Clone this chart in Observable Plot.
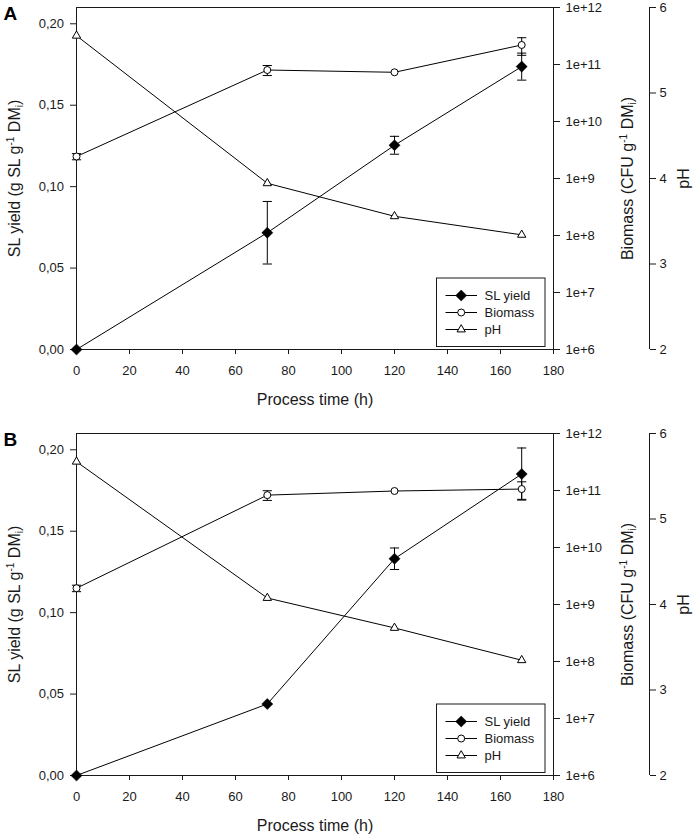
<!DOCTYPE html>
<html>
<head>
<meta charset="utf-8">
<script src="https://cdn.jsdelivr.net/npm/d3@7"></script>
<script src="https://cdn.jsdelivr.net/npm/@observablehq/plot@0.6"></script>
<style>
  body { margin: 0; background: #fff; }
  #chart { position: relative; width: 699px; height: 836px; background: #fff;
           font-family: "Liberation Sans", Arial, Helvetica, sans-serif; }
  .panel { position: absolute; left: 0; width: 699px; height: 420px; }
  .panel svg { position: absolute; left: 0; top: 0; }
</style>
</head>
<body>
<div id="chart"></div>
<script>
// ---------------- data ----------------
const hours = [0, 72, 120, 168];

// Panel A
const slYieldA    = [0, 0.0717, 0.1254, 0.1737];
const slErrA      = [0, 0.0192, 0.0055, 0.0083];
const biomassA    = [2.43e9, 8.0e10, 7.3e10, 2.2e11];
const biomassErrA = [3e8, 1.6e10, 0, 7.5e10];
const phA         = [5.67, 3.944, 3.558, 3.341];

// Panel B
const slYieldB    = [0, 0.0439, 0.1331, 0.1851];
const slErrB      = [0, 0, 0.0066, 0.016];
const biomassB    = [1.93e9, 8.3e10, 9.8e10, 1.06e11];
const biomassErrB = [2.5e8, 1.6e10, 0, 3.6e10];
const phB         = [5.67, 4.076, 3.726, 3.348];

// axes / labels
const xTicks = [0, 20, 40, 60, 80, 100, 120, 140, 160, 180];
const slTicks = [0, 0.05, 0.10, 0.15, 0.20];
const bioTicks = [1e6, 1e7, 1e8, 1e9, 1e10, 1e11, 1e12];
const phTicks = [2, 3, 4, 5, 6];
const legendLabels = ["SL yield", "Biomass", "pH"];
const xTitle = "Process time (h)";
const slTitle = "SL yield (g SL g-1 DMi)";
const bioTitle = "Biomass (CFU g-1 DMi)";
const phTitle = "pH";

// ---------------- layout ----------------
const FONT = '"Liberation Sans", Arial, Helvetica, sans-serif';
const W = 699, H = 420, mL = 76, mT = 7, mB = 71;
const mR = 699 - 553;       // right edge of main frame (biomass axis)
const mRph = 699 - 649;     // pH axis position
const INK = "#1a1a1a";
const R_DIAMOND = 5, R_CIRCLE = 3.5, R_TRI = 3.1;
const capSymbol = { draw(ctx) { ctx.moveTo(-4.6, 0); ctx.lineTo(4.6, 0); } };

const baseStyle = { background: "transparent", fontFamily: FONT, fontSize: "13px", color: INK, overflow: "visible" };
const base = { width: W, height: H, marginLeft: mL, marginTop: mT, marginBottom: mB, style: baseStyle };

function rowsOf(vals, errs) { return hours.map((t, i) => ({ t, v: vals[i], e: errs ? errs[i] : 0 })); }
function capsOf(rows) {
  return rows.flatMap(d => d.e > 0 ? [{ t: d.t, y: d.v - d.e }, { t: d.t, y: d.v + d.e }] : []);
}
function errorMarks(rows) {
  const withErr = rows.filter(d => d.e > 0);
  return [
    Plot.ruleX(withErr, { x: "t", y1: d => d.v - d.e, y2: d => d.v + d.e, stroke: "#000", strokeWidth: 1 }),
    Plot.dot(capsOf(rows), { x: "t", y: "y", symbol: capSymbol, stroke: "#000", fill: "none", strokeWidth: 1 })
  ];
}

function richText(svg, plain, parts) {
  d3.select(svg).selectAll("text").filter(function () { return this.textContent === plain; }).each(function () {
    const t = d3.select(this);
    t.text(null);
    let shift = 0;
    parts.forEach(([s, mode]) => {
      const ts = t.append("tspan").text(s);
      const target = mode === "sup" ? -6 : mode === "sub" ? 3.5 : 0;
      if (target - shift !== 0) ts.attr("dy", target - shift);
      shift = target;
      if (mode) ts.attr("font-size", "10px");
    });
  });
}

function buildPanel(letter, top, sl, slE, bio, bioE, ph) {
  const div = document.createElement("div");
  div.className = "panel";
  div.style.top = top + "px";
  document.getElementById("chart").appendChild(div);

  const slRows = rowsOf(sl, slE);
  const bioRows = rowsOf(bio, bioE);
  const phRows = rowsOf(ph, null);

  // Layer 1: SL yield, x axis, left axis, frame
  const p1 = Plot.plot({
    ...base, marginRight: mR,
    x: { domain: [0, 180] },
    y: { domain: [0, 0.21] },
    marks: [
      Plot.frame({ stroke: INK, strokeWidth: 1 }),
      Plot.axisX({ ticks: xTicks, tickSize: 5, tickPadding: 11, label: null, stroke: INK }),
      Plot.axisY({ anchor: "left", ticks: slTicks, tickSize: 6, tickPadding: 6.5, label: null, stroke: INK,
                   tickFormat: d => d3.format(".2f")(d).replace(".", ",") }),
      Plot.text([xTitle], { text: d => d, frameAnchor: "bottom", textAnchor: "middle", lineAnchor: "middle",
                            dy: 50, fontSize: 16, fill: INK }),
      Plot.text([slTitle], { text: d => d, frameAnchor: "left", textAnchor: "middle", lineAnchor: "middle",
                             dx: -62, rotate: -90, fontSize: 16, fill: INK }),
      Plot.text([letter], { text: d => d, frameAnchor: "top-left", textAnchor: "start", lineAnchor: "bottom",
                            dx: -73, dy: 12.5, fontSize: 19, fontWeight: "bold", fill: "#000" }),
      Plot.line(slRows, { x: "t", y: "v", stroke: "#000", strokeWidth: 1 }),
      ...errorMarks(slRows),
      Plot.dot(slRows, { x: "t", y: "v", symbol: "diamond2", r: R_DIAMOND, fill: "#000", stroke: "#000", strokeWidth: 0.5 })
    ]
  });
  richText(p1, slTitle, [["SL yield (g SL g"], ["-1", "sup"], [" DM"], ["i", "sub"], [")"]]);
  div.appendChild(p1);

  // Layer 2: pH data (own linear scale)
  const p2 = Plot.plot({
    ...base, marginRight: mR,
    x: { domain: [0, 180], axis: null },
    y: { domain: [2, 6], axis: null },
    marks: [
      Plot.line(phRows, { x: "t", y: "v", stroke: "#000", strokeWidth: 1 }),
      Plot.dot(phRows, { x: "t", y: "v", symbol: "triangle", r: R_TRI, fill: "#fff", stroke: "#000", strokeWidth: 1 })
    ]
  });
  div.appendChild(p2);

  // Layer 3: biomass (log scale) with right axis on frame edge
  const p3 = Plot.plot({
    ...base, marginRight: mR,
    x: { domain: [0, 180], axis: null },
    y: { type: "log", domain: [1e6, 1e12] },
    marks: [
      Plot.axisY({ anchor: "right", ticks: bioTicks, tickSize: 6, tickPadding: 6, label: null, stroke: INK,
                   tickFormat: d => "1e+" + Math.round(Math.log10(d)) }),
      Plot.text([bioTitle], { text: d => d, frameAnchor: "right", textAnchor: "middle", lineAnchor: "middle",
                              dx: 74, rotate: -90, fontSize: 16, fill: INK }),
      Plot.line(bioRows, { x: "t", y: "v", stroke: "#000", strokeWidth: 1 }),
      ...errorMarks(bioRows),
      Plot.dot(bioRows, { x: "t", y: "v", symbol: "circle", r: R_CIRCLE, fill: "#fff", stroke: "#000", strokeWidth: 1 })
    ]
  });
  richText(p3, bioTitle, [["Biomass (CFU g"], ["-1", "sup"], [" DM"], ["i", "sub"], [")"]]);
  div.appendChild(p3);

  // Layer 4: pH axis further right
  const p4 = Plot.plot({
    ...base, marginRight: mRph,
    x: { domain: [0, 1], axis: null },
    y: { domain: [2, 6] },
    marks: [
      Plot.ruleX([1], { stroke: INK, strokeWidth: 1 }),
      Plot.axisY({ anchor: "right", ticks: phTicks, tickSize: 6, tickPadding: 4, label: null, stroke: INK,
                   tickFormat: d => d3.format("d")(d) }),
      Plot.text([phTitle], { text: d => d, frameAnchor: "right", textAnchor: "middle", lineAnchor: "middle",
                             dx: 34, rotate: -90, fontSize: 16, fill: INK })
    ]
  });
  div.appendChild(p4);

  // Legend box
  const lg = d3.select(div).append("svg")
    .attr("width", W).attr("height", H)
    .style("position", "absolute").style("left", 0).style("top", 0)
    .style("font-family", FONT);
  lg.append("rect").attr("x", 436.5).attr("y", 278).attr("width", 108.5).attr("height", 68.5)
    .attr("fill", "#fff").attr("stroke", INK).attr("stroke-width", 1);
  const syms = [
    { s: d3.symbolDiamond2, size: Math.PI * R_DIAMOND * R_DIAMOND, fill: "#000" },
    { s: d3.symbolCircle, size: Math.PI * R_CIRCLE * R_CIRCLE, fill: "#fff" },
    { s: d3.symbolTriangle, size: Math.PI * R_TRI * R_TRI, fill: "#fff" }
  ];
  legendLabels.forEach((lab, i) => {
    const y = 295.5 + i * 17;
    lg.append("line").attr("x1", 445.5).attr("x2", 477).attr("y1", y).attr("y2", y)
      .attr("stroke", "#000").attr("stroke-width", 1);
    lg.append("path").attr("d", d3.symbol(syms[i].s, syms[i].size)())
      .attr("transform", `translate(461.2,${y})`).attr("fill", syms[i].fill)
      .attr("stroke", "#000").attr("stroke-width", i === 0 ? 0.5 : 1);
    lg.append("text").attr("x", 484.5).attr("y", y).attr("dy", "0.35em")
      .attr("font-size", 13).attr("fill", INK).text(lab);
  });
}

buildPanel("A", 0, slYieldA, slErrA, biomassA, biomassErrA, phA);
buildPanel("B", 426, slYieldB, slErrB, biomassB, biomassErrB, phB);
</script>
</body>
</html>
